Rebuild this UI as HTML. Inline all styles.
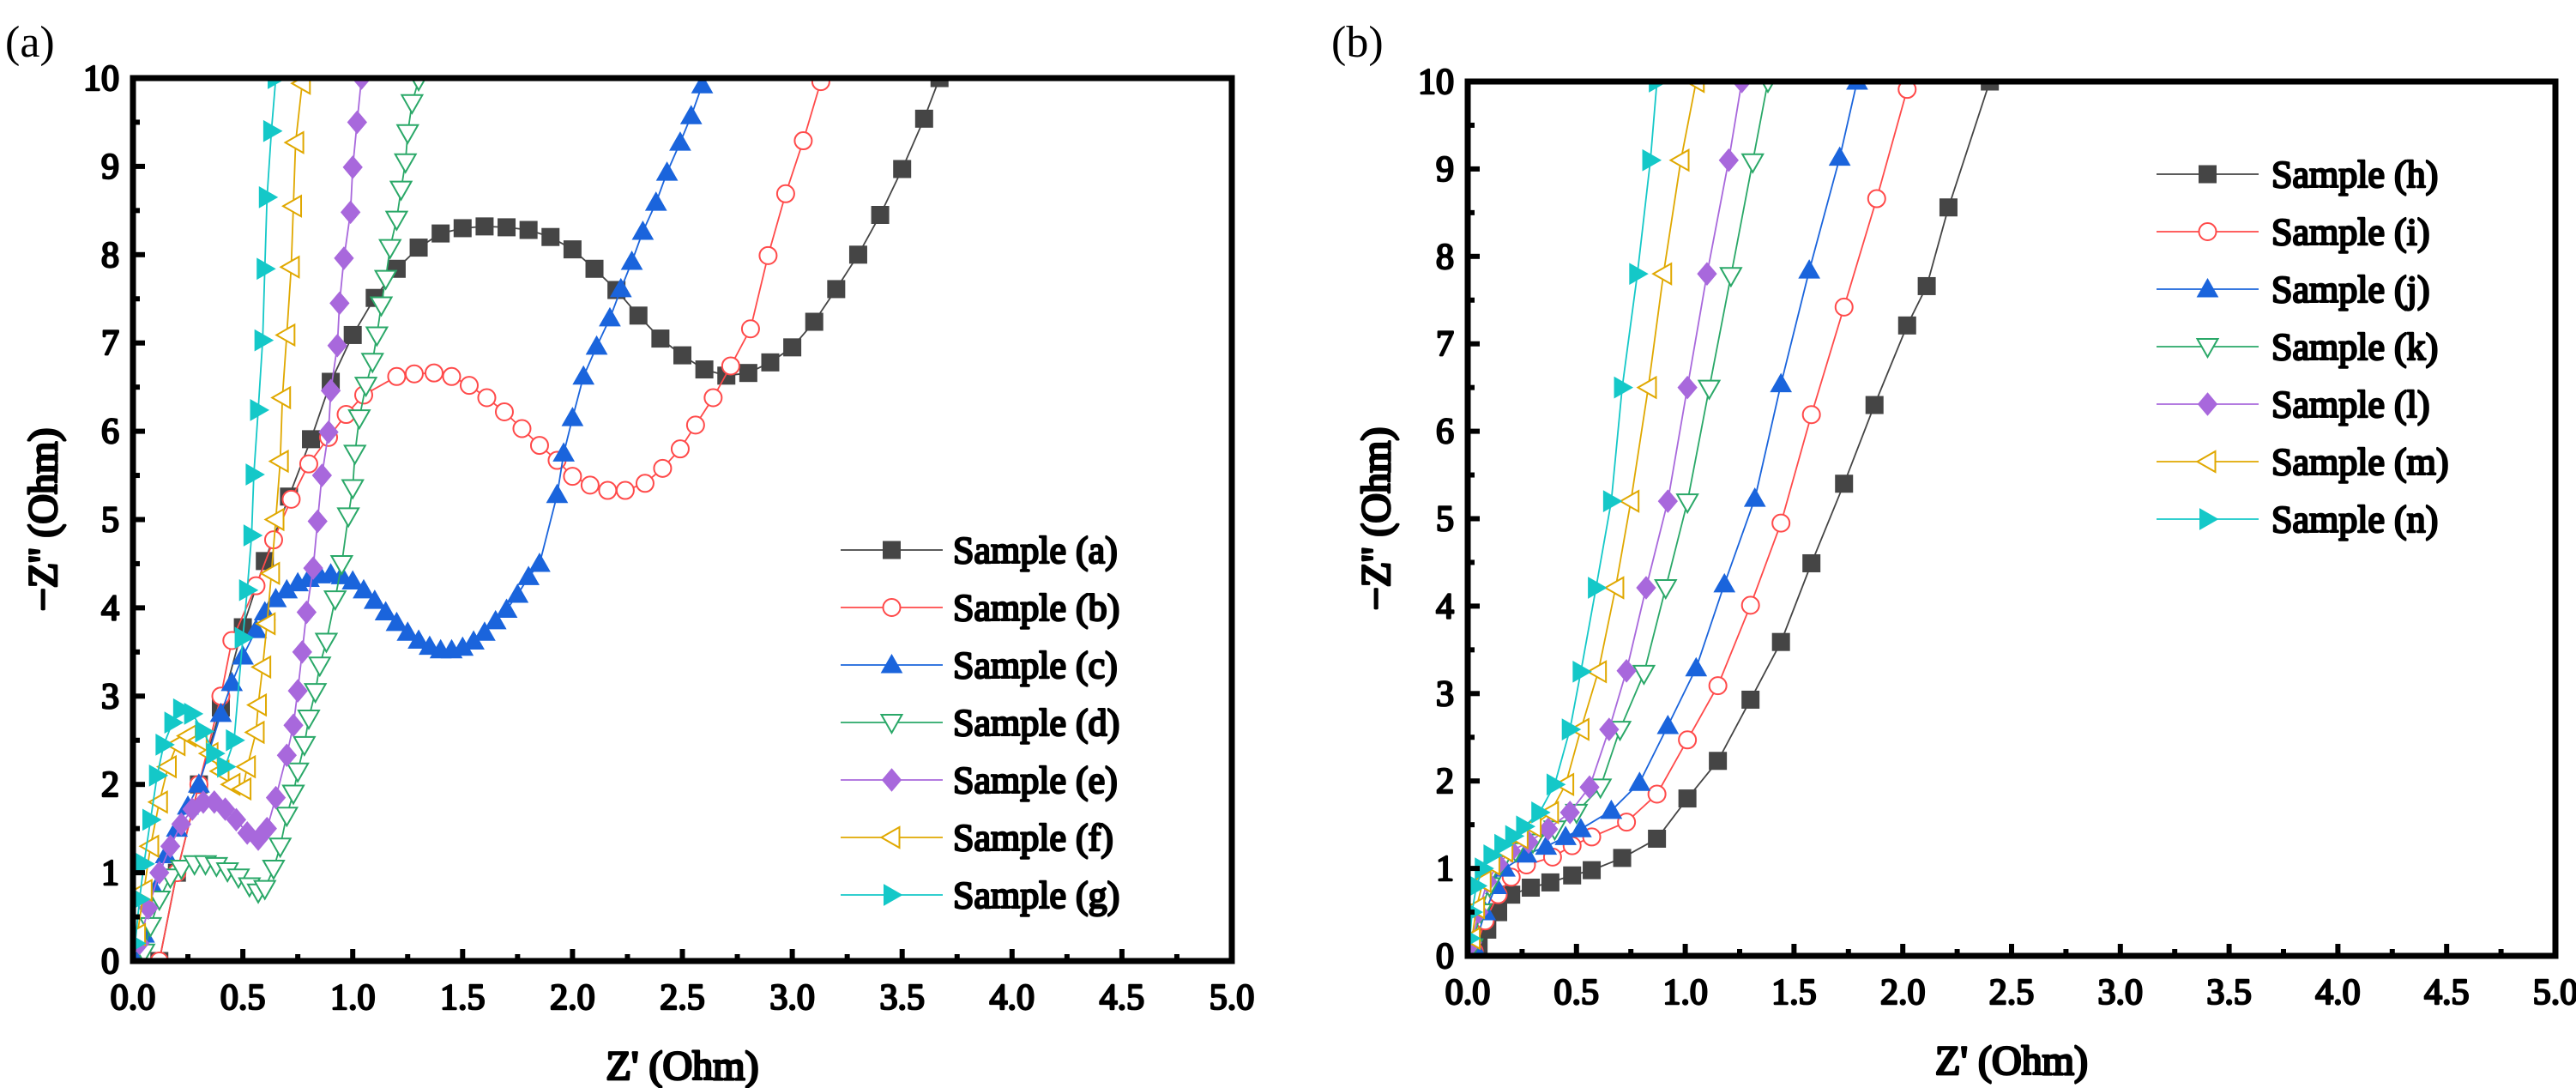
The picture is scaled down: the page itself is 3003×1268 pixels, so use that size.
<!DOCTYPE html>
<html><head><meta charset="utf-8"><style>
html,body{margin:0;padding:0;background:#fff;}
svg{display:block;}
</style></head><body>
<svg id="chart" width="3003" height="1268" viewBox="0 0 3003 1268" xmlns="http://www.w3.org/2000/svg">
<defs>
<clipPath id="clipA"><rect x="155" y="91" width="1281" height="1029"/></clipPath>
<clipPath id="clipB"><rect x="1711" y="95" width="1268" height="1019"/></clipPath>
</defs>
</svg>
<script>
// ---------- Panel (a) data ----------
const namesA = ["Sample (a)","Sample (b)","Sample (c)","Sample (d)","Sample (e)","Sample (f)","Sample (g)"];
const a_x = [0.12,0.2,0.3,0.4,0.5,0.6,0.71,0.81,0.9,1.0,1.1,1.2,1.3,1.4,1.5,1.6,1.7,1.8,1.9,2.0,2.1,2.2,2.3,2.4,2.5,2.6,2.7,2.8,2.9,3.0,3.1,3.2,3.3,3.4,3.5,3.6,3.67];
const a_y = [0.0,1.0,2.0,2.87,3.78,4.53,5.26,5.91,6.56,7.09,7.51,7.84,8.08,8.24,8.3,8.32,8.31,8.28,8.2,8.06,7.84,7.6,7.31,7.05,6.86,6.7,6.63,6.66,6.78,6.95,7.24,7.61,8.0,8.45,8.97,9.54,10];
const b_x = [0.12,0.2,0.3,0.4,0.45,0.56,0.64,0.72,0.8,0.89,0.97,1.05,1.2,1.28,1.37,1.45,1.53,1.61,1.69,1.77,1.85,1.93,2.0,2.08,2.16,2.24,2.33,2.41,2.49,2.56,2.64,2.72,2.81,2.89,2.97,3.05,3.13];
const b_y = [0.0,1.0,2.0,3.0,3.63,4.25,4.77,5.23,5.63,5.93,6.19,6.41,6.62,6.65,6.66,6.62,6.52,6.38,6.22,6.03,5.84,5.67,5.49,5.39,5.33,5.33,5.41,5.58,5.8,6.07,6.38,6.74,7.16,7.99,8.69,9.29,9.96];
const c_x = [0.02,0.05,0.1,0.15,0.2,0.25,0.3,0.4,0.45,0.5,0.56,0.6,0.65,0.7,0.75,0.8,0.85,0.9,0.95,1.0,1.05,1.1,1.15,1.2,1.25,1.3,1.35,1.4,1.45,1.5,1.55,1.6,1.65,1.7,1.75,1.8,1.85,1.93,1.96,2.0,2.05,2.11,2.17,2.22,2.27,2.32,2.38,2.43,2.49,2.54,2.59];
const c_y = [0,0.3,0.8,1.2,1.5,1.75,2.0,2.8,3.15,3.45,3.75,3.95,4.1,4.2,4.28,4.33,4.37,4.38,4.36,4.3,4.2,4.08,3.95,3.83,3.72,3.63,3.56,3.52,3.52,3.55,3.62,3.72,3.85,3.98,4.15,4.35,4.5,5.28,5.75,6.15,6.62,6.96,7.28,7.61,7.92,8.26,8.59,8.93,9.27,9.57,9.92];
const d_x = [0.05,0.08,0.12,0.17,0.22,0.28,0.33,0.38,0.43,0.48,0.53,0.57,0.6,0.64,0.67,0.7,0.73,0.75,0.78,0.8,0.83,0.85,0.88,0.92,0.95,0.98,1.0,1.01,1.03,1.06,1.09,1.11,1.13,1.15,1.17,1.2,1.22,1.24,1.25,1.27,1.3];
const d_y = [0.1,0.4,0.7,0.95,1.05,1.1,1.1,1.08,1.02,0.95,0.85,0.78,0.82,1.05,1.3,1.65,1.9,2.15,2.45,2.75,3.05,3.35,3.62,4.1,4.5,5.04,5.36,5.75,6.15,6.52,6.79,7.09,7.43,7.73,8.08,8.4,8.74,9.05,9.38,9.72,9.98];
const e_x = [0.03,0.07,0.12,0.17,0.22,0.27,0.32,0.37,0.42,0.47,0.52,0.57,0.61,0.65,0.7,0.73,0.75,0.77,0.79,0.82,0.84,0.86,0.89,0.9,0.93,0.94,0.96,0.99,1.0,1.02,1.04];
const e_y = [0.2,0.6,1.0,1.3,1.55,1.72,1.8,1.8,1.72,1.6,1.45,1.38,1.5,1.85,2.33,2.67,3.06,3.5,3.95,4.45,4.98,5.5,5.99,6.46,6.97,7.45,7.96,8.48,8.99,9.5,10];
const f_x = [0.02,0.05,0.08,0.12,0.16,0.2,0.25,0.3,0.35,0.4,0.45,0.5,0.52,0.56,0.57,0.59,0.61,0.63,0.65,0.67,0.68,0.7,0.72,0.73,0.74,0.77];
const f_y = [0.3,0.8,1.3,1.8,2.2,2.45,2.55,2.5,2.35,2.15,2.0,1.95,2.2,2.59,2.9,3.33,3.82,4.39,5.0,5.66,6.38,7.09,7.86,8.55,9.27,9.94];
const g_x = [0.01,0.03,0.05,0.08,0.11,0.14,0.18,0.22,0.27,0.32,0.37,0.42,0.46,0.5,0.52,0.54,0.55,0.57,0.59,0.6,0.61,0.63,0.65];
const g_y = [0.2,0.7,1.1,1.6,2.1,2.45,2.7,2.85,2.8,2.6,2.35,2.2,2.5,3.66,4.2,4.82,5.51,6.24,7.03,7.84,8.65,9.4,10];

// ---------- Panel (b) data ----------
const namesB = ["Sample (h)","Sample (i)","Sample (j)","Sample (k)","Sample (l)","Sample (m)","Sample (n)"];
const h_x = [0.05,0.09,0.14,0.2,0.29,0.38,0.48,0.57,0.71,0.87,1.01,1.15,1.3,1.44,1.58,1.73,1.87,2.02,2.11,2.21,2.4];
const h_y = [0.1,0.3,0.5,0.7,0.78,0.84,0.92,0.98,1.12,1.34,1.8,2.23,2.93,3.59,4.49,5.4,6.3,7.21,7.66,8.56,10];
const i_x = [0.03,0.08,0.14,0.2,0.27,0.39,0.48,0.57,0.73,0.87,1.01,1.15,1.3,1.44,1.58,1.73,1.88,2.02];
const i_y = [0.05,0.4,0.7,0.9,1.04,1.13,1.26,1.36,1.53,1.85,2.47,3.09,4.01,4.95,6.19,7.42,8.66,9.91];
const j_x = [0.03,0.08,0.13,0.17,0.27,0.36,0.45,0.52,0.66,0.79,0.92,1.05,1.18,1.32,1.44,1.57,1.71,1.79];
const j_y = [0.1,0.5,0.8,1.0,1.16,1.25,1.36,1.45,1.66,1.98,2.63,3.29,4.25,5.23,6.54,7.84,9.13,10];
const k_x = [0.02,0.06,0.1,0.15,0.22,0.3,0.4,0.5,0.61,0.7,0.81,0.91,1.01,1.11,1.21,1.31,1.38];
const k_y = [0.1,0.5,0.8,1.05,1.2,1.3,1.45,1.64,1.93,2.59,3.23,4.21,5.19,6.49,7.78,9.08,10];
const l_x = [0.02,0.05,0.09,0.14,0.2,0.28,0.37,0.47,0.56,0.65,0.73,0.82,0.92,1.01,1.1,1.2,1.26];
const l_y = [0.15,0.5,0.85,1.05,1.2,1.3,1.45,1.64,1.93,2.59,3.26,4.21,5.2,6.5,7.8,9.1,10];
const m_x = [0.02,0.04,0.07,0.11,0.17,0.24,0.3,0.38,0.45,0.52,0.6,0.68,0.75,0.83,0.9,0.98,1.05];
const m_y = [0.2,0.55,0.85,1.05,1.2,1.35,1.48,1.64,1.96,2.59,3.25,4.21,5.2,6.5,7.8,9.1,10];
const n_x = [0.01,0.02,0.04,0.07,0.11,0.16,0.21,0.26,0.33,0.4,0.47,0.52,0.59,0.66,0.71,0.78,0.84,0.87];
const n_y = [0.2,0.5,0.8,1.0,1.15,1.27,1.37,1.48,1.64,1.96,2.59,3.25,4.21,5.2,6.5,7.8,9.1,10];

const xTicks = ["0.0","0.5","1.0","1.5","2.0","2.5","3.0","3.5","4.0","4.5","5.0"];
const yTicks = ["0","1","2","3","4","5","6","7","8","9","10"];

const NS = "http://www.w3.org/2000/svg";
const svg = document.getElementById("chart");
function mk(tag, attrs, parent){
  const e = document.createElementNS(NS, tag);
  for (const k in attrs) e.setAttribute(k, attrs[k]);
  if (tag === "text") {
    e.style.fontFamily = '"Liberation Serif","DejaVu Serif","Times New Roman",serif';
    e.style.fontWeight = "normal";
    e.style.fill = "#000";
    if (!attrs["data-plain"]) {
      e.style.stroke = "#000";
      e.style.strokeWidth = (attrs["sw"] || 2.4) + "px";
      e.style.strokeLinejoin = "round";
    }
  }
  (parent||svg).appendChild(e);
  return e;
}
const styles = [
  {c:"#454545", fill:"#454545", shape:"square"},
  {c:"#ff4a4a", fill:"#fff", shape:"circle"},
  {c:"#1a64dc", fill:"#1a64dc", shape:"up"},
  {c:"#2aa868", fill:"#fff", shape:"down"},
  {c:"#a868dc", fill:"#a868dc", shape:"diamond"},
  {c:"#e0a800", fill:"#fff", shape:"left"},
  {c:"#14c8c8", fill:"#14c8c8", shape:"right"}
];
function marker(g, shape, x, y, st){
  const r = 11;
  let e;
  if (shape==="square") e = mk("rect",{x:x-r+1,y:y-r+1,width:2*r-2,height:2*r-2},g);
  else if (shape==="circle") e = mk("circle",{cx:x,cy:y,r:r-1},g);
  else {
    let p;
    if (shape==="up") p=[[x,y-r-1],[x+r+1,y+r-2],[x-r-1,y+r-2]];
    if (shape==="down") p=[[x,y+r+1],[x+r+1,y-r+2],[x-r-1,y-r+2]];
    if (shape==="left") p=[[x-r-1,y],[x+r-2,y-r-1],[x+r-2,y+r+1]];
    if (shape==="right") p=[[x+r+1,y],[x-r+2,y-r-1],[x-r+2,y+r+1]];
    if (shape==="diamond") p=[[x,y-r-2],[x+r,y],[x,y+r+2],[x-r,y]];
    e = mk("polygon",{points:p.map(q=>q.join(",")).join(" ")},g);
  }
  e.setAttribute("fill", st.fill);
  e.setAttribute("stroke", st.c);
  e.setAttribute("stroke-width", st.fill==="#fff" ? 2 : 1);
  return e;
}
function panel(cfg){
  const {L,R,T,B,clip,series,names,leg,label,labelX,yTitleX,key} = cfg;
  const sx = v => L + (R-L)*v/5;
  const sy = v => B - (B-T)*v/10;
  const g = mk("g",{});
  
  
  const pl = mk("text",{x:labelX,y:66,"font-size":52,"data-plain":"1"},g);
  pl.textContent = label;
  
  
  const sg = mk("g",{"clip-path":"url(#"+clip+")"},g);
  series.forEach((s,i)=>{
    const st = styles[i];
    const ser = mk("g",{},sg);
    
    
    const d = s[0].map((x,j)=>(j?"L":"M")+sx(x).toFixed(1)+","+sy(s[1][j]).toFixed(1)).join("");
    mk("path",{d:d,fill:"none",stroke:st.c,"stroke-width":1.8},ser);
    s[0].forEach((x,j)=>{
      const m = marker(ser, st.shape, sx(x), sy(s[1][j]), st);
      
      
    });
  });
  const fr = mk("rect",{x:L,y:T,width:R-L,height:B-T,fill:"none",stroke:"#000","stroke-width":7},g);
  
  
  for (let i=0;i<=20;i++){
    const x = sx(i*0.25), len = i%2===0?14:8;
    mk("line",{x1:x,y1:B,x2:x,y2:B-len,stroke:"#000","stroke-width":6},g);
  }
  for (let i=0;i<=20;i++){
    const y = sy(i*0.5), len = i%2===0?14:8;
    mk("line",{x1:L,y1:y,x2:L+len,y2:y,stroke:"#000","stroke-width":6},g);
  }
  xTicks.forEach((t,i)=>{
    const e = mk("text",{x:sx(i*0.5),y:B+56,"text-anchor":"middle","font-size":42},g);
    e.textContent = t;
    
    
  });
  yTicks.forEach((t,i)=>{
    const e = mk("text",{x:L-16,y:sy(i)+14,"text-anchor":"end","font-size":42},g);
    e.textContent = t;
    
    
  });
  const xt = mk("text",{x:(L+R)/2,y:B+138,"text-anchor":"middle","font-size":48,sw:2.8},g);
  xt.textContent = "Z' (Ohm)";
  
  
  const yt = mk("text",{x:0,y:0,"text-anchor":"middle","font-size":48,sw:2.8,transform:"translate("+yTitleX+","+((T+B)/2)+") rotate(-90)"},g);
  yt.textContent = "\u2212Z'' (Ohm)";
  
  
  const lg = mk("g",{},g);
  
  
  names.forEach((n,i)=>{
    const st = styles[i], y = leg.y0 + i*leg.dy;
    const it = mk("g",{},lg);
    
    
    mk("line",{x1:leg.x1,y1:y,x2:leg.x2,y2:y,stroke:st.c,"stroke-width":1.8},it);
    marker(it, st.shape, (leg.x1+leg.x2)/2, y, st);
    const t = mk("text",{x:leg.tx,y:y+15,"font-size":44},it);
    t.textContent = n;
  });
}
panel({key:"a",L:155,R:1436,T:91,B:1120,clip:"clipA",label:"(a)",labelX:6,yTitleX:66,
  names:namesA,
  series:[[a_x,a_y],[b_x,b_y],[c_x,c_y],[d_x,d_y],[e_x,e_y],[f_x,f_y],[g_x,g_y]],
  leg:{x1:980,x2:1099,tx:1111,y0:641,dy:67}});
panel({key:"b",L:1711,R:2979,T:95,B:1114,clip:"clipB",label:"(b)",labelX:1552,yTitleX:1620,
  names:namesB,
  series:[[h_x,h_y],[i_x,i_y],[j_x,j_y],[k_x,k_y],[l_x,l_y],[m_x,m_y],[n_x,n_y]],
  leg:{x1:2514,x2:2633,tx:2648,y0:203,dy:67}});
</script>
</body></html>
